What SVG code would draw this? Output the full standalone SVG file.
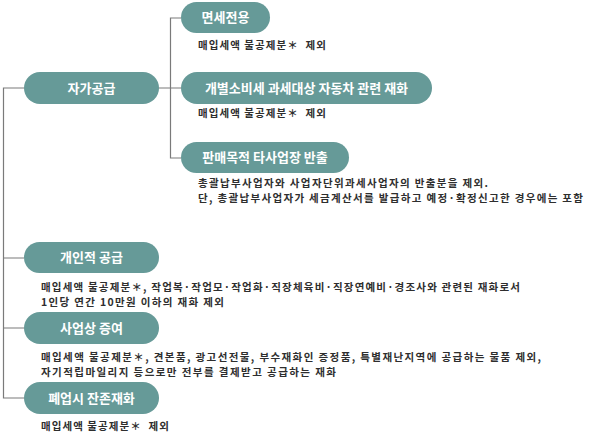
<svg xmlns="http://www.w3.org/2000/svg" width="591" height="436" viewBox="0 0 591 436">
<style>
.pill{fill:#669a98}
.lbl{font-family:"Noto Sans CJK KR","Noto Sans",sans-serif;font-size:13px;font-weight:bold;fill:#ffffff;text-anchor:middle}
.txt{font-family:"Noto Sans CJK KR","Noto Sans",sans-serif;font-size:10.5px;font-weight:bold;fill:#2e2e2e}
.ln{fill:none;stroke:#7a7a7a;stroke-width:1.2}
</style>
<rect width="591" height="436" fill="#ffffff"/>
<g id="connectors">
<path class="ln" d="M24,88 H3.5 V398 H24 M3.5,258 H24 M3.5,328 H24"/>
<path class="ln" d="M159,88 H181 M181,18 H170.5 V158 H181"/>
</g>
<g id="n-jaga">
<rect class="pill" x="24" y="72" width="135" height="32" rx="16"/>
<text class="lbl" x="91.5" y="92.5">자가공급</text>
</g>
<g id="n-myeonse">
<rect class="pill" x="181" y="2" width="89" height="31" rx="15.5"/>
<text class="lbl" x="225.5" y="22">면세전용</text>
<text class="txt" x="198" y="49" textLength="128" lengthAdjust="spacing">매입세액 불공제분＊&#160; 제외</text>
</g>
<g id="n-gaebyeol">
<rect class="pill" x="181" y="72" width="251" height="32" rx="16"/>
<text class="lbl" x="306.5" y="92.5">개별소비세 과세대상 자동차 관련 재화</text>
<text class="txt" x="198" y="117" textLength="128" lengthAdjust="spacing">매입세액 불공제분＊&#160; 제외</text>
</g>
<g id="n-panmae">
<rect class="pill" x="181" y="142" width="168" height="31" rx="15.5"/>
<text class="lbl" x="265" y="162">판매목적 타사업장 반출</text>
<text class="txt" x="198" y="187" textLength="290" lengthAdjust="spacing">총괄납부사업자와 사업자단위과세사업자의 반출분을 제외.</text>
<text class="txt" x="198" y="202" textLength="385" lengthAdjust="spacing">단, 총괄납부사업자가 세금계산서를 발급하고 예정·확정신고한 경우에는 포함</text>
</g>
<g id="n-gaein">
<rect class="pill" x="24" y="242" width="135" height="31" rx="15.5"/>
<text class="lbl" x="91.5" y="262">개인적 공급</text>
<text class="txt" x="41" y="291" textLength="479" lengthAdjust="spacing">매입세액 불공제분＊, 작업복·작업모·작업화·직장체육비·직장연예비·경조사와 관련된 재화로서</text>
<text class="txt" x="41" y="306" textLength="183" lengthAdjust="spacing">1인당 연간 10만원 이하의 재화 제외</text>
</g>
<g id="n-saeop">
<rect class="pill" x="24" y="312" width="135" height="32" rx="16"/>
<text class="lbl" x="91.5" y="332.5">사업상 증여</text>
<text class="txt" x="41" y="361" textLength="500" lengthAdjust="spacing">매입세액 불공제분＊, 견본품, 광고선전물, 부수재화인 증정품, 특별재난지역에 공급하는 물품 제외,</text>
<text class="txt" x="41" y="376" textLength="295" lengthAdjust="spacing">자기적립마일리지 등으로만 전부를 결제받고 공급하는 재화</text>
</g>
<g id="n-pyeeop">
<rect class="pill" x="24" y="382" width="135" height="32" rx="16"/>
<text class="lbl" x="91.5" y="402.5">폐업시 잔존재화</text>
<text class="txt" x="41" y="430" textLength="128" lengthAdjust="spacing">매입세액 불공제분＊&#160; 제외</text>
</g>
</svg>
